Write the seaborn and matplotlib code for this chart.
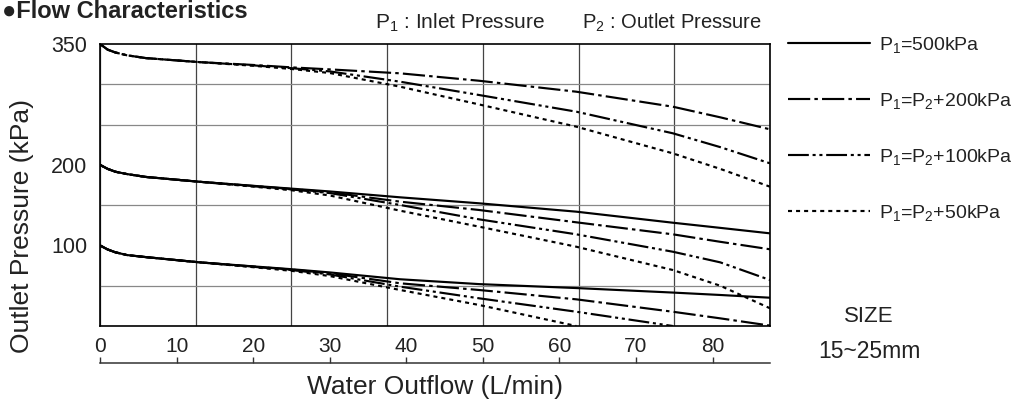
import numpy as np
import pandas as pd
import matplotlib
matplotlib.use("Agg")
import matplotlib.pyplot as plt
import seaborn as sns

# ---------------- data ----------------
FLOW = [0, 1, 2, 3.5, 6, 13, 20, 25, 30, 39.2, 49.5, 62.2, 74.8, 81, 87.5]   # L/min
nan = np.nan

# set pressure 350 kPa
dd200_350 = [350, 343, 339.5, 336, 332.5, 327.5, 324, 321, 318.5, 313.6, 304.4, 290.8, 272.2, 259, 244.1]
dd100_350 = [350, 343, 339.5, 336, 332.5, 327.5, 323.5, 320, 316, 303.2, 286.7, 266.0, 239.2, 222, 201.9]
dot50_350 = [350, 343, 339.5, 336, 332.5, 327.5, 323, 319, 314, 297.0, 275.0, 247.4, 214.3, 195, 172.9]

# set pressure 200 kPa
solid_200 = [200, 195, 191.5, 188.6, 185, 179, 174, 170.5, 167, 159.7, 152.3, 141.9, 128.2, 121.8, 115.0]
dd200_200 = [200, 195, 191.5, 188.6, 185, 179, 173.8, 170, 166, 154.3, 144.0, 128.7, 113.8, 104.5, 95.2]
dd100_200 = [200, 195, 191.5, 188.6, 185, 179, 173.5, 169.5, 165, 150.2, 132.4, 113.8, 92.2, 79, 57.1]
dot50_200 = [200, 195, 191.5, 188.6, 185, 179, 173, 168.5, 162, 143.1, 123.3, 98.4, 69.5, 50, 22.0]

# set pressure 100 kPa
solid_100 = [100, 95, 91.5, 88.1, 85.5, 79, 74, 70.5, 66.5, 58.0, 52.0, 47.1, 41.5, 38.5, 35.1]
dd200_100 = [100, 95, 91.5, 88.1, 85.5, 79, 73.8, 70, 65.5, 53.0, 44.7, 33.1, 17.7, 9.5, 0.5]
dd100_100 = [100, 95, 91.5, 88.1, 85.5, 79, 73.5, 69.5, 64, 48.8, 34.4, 17.7, 0, nan, nan]
dot50_100 = [100, 95, 91.5, 88.1, 85.5, 79, 73, 68.5, 62, 44.7, 26.1, 0, nan, nan, nan]

SERIES = [r"P$_\mathregular{1}$=500kPa",
          r"P$_\mathregular{1}$=P$_\mathregular{2}$+200kPa",
          r"P$_\mathregular{1}$=P$_\mathregular{2}$+100kPa",
          r"P$_\mathregular{1}$=P$_\mathregular{2}$+50kPa"]

CURVES = [
    (350, 1, dd200_350), (350, 2, dd100_350), (350, 3, dot50_350),
    (200, 0, solid_200), (200, 1, dd200_200), (200, 2, dd100_200), (200, 3, dot50_200),
    (100, 0, solid_100), (100, 1, dd200_100), (100, 2, dd100_100), (100, 3, dot50_100),
]

Y_TICKS = [100, 200, 350]
X_TICKS = [0, 10, 20, 30, 40, 50, 60, 70, 80]

rows = []
for grp, si, vals in CURVES:
    for f, v in zip(FLOW, vals):
        rows.append({"flow": f, "kPa": v, "series": SERIES[si], "unit": f"{grp}-{si}"})
df = pd.DataFrame(rows).dropna()

# ---------------- style ----------------
sns.set_style("white")
plt.rcParams["font.family"] = ["Liberation Sans", "DejaVu Sans"]
plt.rcParams["mathtext.fontset"] = "custom"
plt.rcParams["mathtext.rm"] = "Liberation Sans"
plt.rcParams["mathtext.it"] = "Liberation Sans:italic"
plt.rcParams["lines.scale_dashes"] = False
TXT = "#222222"
LW = 1.55

dash_map = {
    SERIES[0]: "",
    SERIES[1]: (16, 3, 2.5, 3),
    SERIES[2]: (15, 2.7, 2.2, 2.7, 2.2, 2.7),
    SERIES[3]: (2.9, 2.9),
}

fig = plt.figure(figsize=(10.14, 4.03), dpi=100)
W, H = 1014, 403
L, R, T, B = 100, 770, 44, 326
ax = fig.add_axes([L / W, (H - B) / H, (R - L) / W, (B - T) / H])

sns.lineplot(data=df, x="flow", y="kPa", style="series", units="unit",
             estimator=None, sort=False, color="black", dashes=dash_map,
             style_order=SERIES, lw=LW, ax=ax, legend=True)

ax.set_xlim(0, 87.5)
ax.set_ylim(0, 350)
ax.set_xticks(np.arange(0, 87.6, 12.5))
ax.tick_params(axis="x", length=0, labelbottom=False)
ax.set_yticks(Y_TICKS)
ax.set_yticks(np.arange(0, 351, 50), minor=True)
ax.set_yticklabels([str(v) for v in Y_TICKS])
ax.tick_params(axis="y", which="both", length=0, pad=9, labelsize=15.5, labelcolor=TXT)
ax.grid(False)
ax.grid(axis="x", which="major", color="#444444", lw=0.9)
ax.grid(axis="y", which="minor", color="#888888", lw=0.9)
for s in ax.spines.values():
    s.set_color("black")
    s.set_linewidth(1.2)
ax.set_xlabel("")
ax.set_ylabel("Outlet Pressure (kPa)", fontsize=19, color=TXT)
ax.yaxis.set_label_coords(-0.098, 0.355)

# legend
handles, labels = ax.get_legend_handles_labels()
for h in handles:
    h.set_color("black")
    h.set_linewidth(LW)
ax.legend(handles, labels, loc="center left",
          bbox_to_anchor=(788 / W, 1 - 129 / H), bbox_transform=fig.transFigure,
          frameon=False, fontsize=14, handlelength=4.2, handletextpad=0.5,
          labelspacing=1.85, borderpad=0, borderaxespad=0, labelcolor=TXT)

# separate flow scale bar below the chart
ax2 = fig.add_axes([L / W, (H - 364) / H, (R - L) / W, 1 / H])
ax2.set_xlim(0, 87.5)
ax2.set_ylim(0, 1)
ax2.patch.set_visible(False)
for k in ["left", "right", "bottom"]:
    ax2.spines[k].set_visible(False)
ax2.spines["top"].set_color("#333333")
ax2.spines["top"].set_linewidth(1.1)
ax2.set_yticks([])
ax2.set_xticks(X_TICKS)
ax2.set_xticklabels([str(v) for v in X_TICKS])
ax2.xaxis.tick_top()
ax2.tick_params(axis="x", direction="out", length=4, width=1, color="#333333",
                labelsize=15, pad=1, labelcolor=TXT)
ax2.xaxis.set_label_position("bottom")
ax2.set_xlabel("Water Outflow (L/min)", fontsize=19, labelpad=8, color=TXT)

# texts
fig.text(2 / W, 1 - 18 / H, "\u25cfFlow Characteristics", fontsize=17, fontweight="bold",
         color=TXT, ha="left", va="baseline")
fig.text(375 / W, 1 - 29 / H, r"P$_\mathregular{1}$ : Inlet Pressure", fontsize=15,
         color=TXT, ha="left", va="baseline")
fig.text(762 / W, 1 - 29 / H, r"P$_\mathregular{2}$ : Outlet Pressure", fontsize=14.5,
         color=TXT, ha="right", va="baseline")
fig.text(869 / W, 1 - 316 / H, "SIZE", fontsize=16, color=TXT, ha="center", va="center")
fig.text(869 / W, 1 - 351 / H, "15~25mm", fontsize=16.5, color=TXT, ha="center", va="center")

fig.savefig("out.png", dpi=100)
